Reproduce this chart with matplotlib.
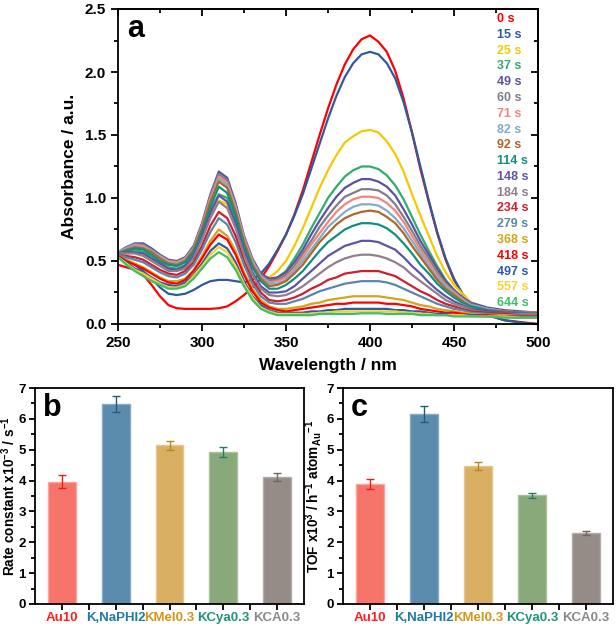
import matplotlib
matplotlib.use("Agg")
import matplotlib.pyplot as plt
import numpy as np
from matplotlib.ticker import MultipleLocator

# ---------------------------------------------------------------------------
# Data
# ---------------------------------------------------------------------------

wavelength = [250, 255, 260, 265, 270, 275, 280, 285, 290, 295,
              300, 305, 310, 315, 320, 325, 330, 335, 340, 345,
              350, 355, 360, 365, 370, 375, 380, 385, 390, 395,
              400, 405, 410, 415, 420, 425, 430, 435, 440, 445,
              450, 455, 460, 470, 480, 490, 500]

abs_0s   = [0.47, 0.45, 0.43, 0.39, 0.31, 0.22, 0.15, 0.125, 0.12, 0.12,
            0.12, 0.12, 0.125, 0.14, 0.18, 0.23, 0.29, 0.36, 0.46, 0.58,
            0.71, 0.87, 1.06, 1.28, 1.50, 1.71, 1.90, 2.06, 2.18, 2.26,
            2.29, 2.24, 2.16, 2.01, 1.79, 1.52, 1.23, 0.97, 0.72, 0.51,
            0.35, 0.24, 0.16, 0.07, 0.03, 0.015, 0.0]
abs_15s  = [0.55, 0.51, 0.47, 0.42, 0.36, 0.29, 0.24, 0.23, 0.24, 0.27,
            0.31, 0.34, 0.35, 0.35, 0.34, 0.33, 0.35, 0.40, 0.48, 0.59,
            0.71, 0.86, 1.03, 1.23, 1.43, 1.63, 1.81, 1.96, 2.07, 2.14,
            2.16, 2.14, 2.07, 1.95, 1.76, 1.52, 1.25, 0.98, 0.73, 0.52,
            0.36, 0.24, 0.16, 0.07, 0.03, 0.01, 0.0]
abs_25s  = [0.56, 0.56, 0.57, 0.55, 0.51, 0.47, 0.43, 0.43, 0.45, 0.53,
            0.68, 0.86, 0.98, 0.95, 0.79, 0.57, 0.45, 0.38, 0.37, 0.42,
            0.50, 0.62, 0.76, 0.92, 1.08, 1.22, 1.34, 1.44, 1.49, 1.53,
            1.54, 1.52, 1.45, 1.35, 1.21, 1.03, 0.86, 0.70, 0.54, 0.41,
            0.31, 0.24, 0.17, 0.12, 0.10, 0.08, 0.08]
abs_37s  = [0.56, 0.58, 0.59, 0.57, 0.54, 0.49, 0.45, 0.44, 0.47, 0.56,
            0.71, 0.90, 1.03, 1.00, 0.83, 0.60, 0.46, 0.37, 0.34, 0.37,
            0.42, 0.52, 0.63, 0.76, 0.88, 1.00, 1.09, 1.17, 1.22, 1.25,
            1.25, 1.23, 1.18, 1.10, 0.99, 0.85, 0.71, 0.58, 0.46, 0.35,
            0.27, 0.21, 0.16, 0.12, 0.10, 0.09, 0.08]
abs_49s  = [0.57, 0.61, 0.64, 0.64, 0.60, 0.55, 0.51, 0.50, 0.53, 0.62,
            0.80, 1.03, 1.21, 1.16, 0.96, 0.70, 0.52, 0.40, 0.36, 0.37,
            0.41, 0.49, 0.59, 0.71, 0.82, 0.92, 1.01, 1.08, 1.12, 1.15,
            1.15, 1.13, 1.09, 1.02, 0.91, 0.79, 0.66, 0.55, 0.44, 0.34,
            0.27, 0.21, 0.17, 0.13, 0.11, 0.10, 0.09]
abs_60s  = [0.57, 0.61, 0.63, 0.63, 0.59, 0.54, 0.50, 0.49, 0.52, 0.61,
            0.79, 1.02, 1.19, 1.14, 0.94, 0.69, 0.51, 0.39, 0.34, 0.35,
            0.39, 0.46, 0.56, 0.66, 0.77, 0.86, 0.94, 1.01, 1.04, 1.07,
            1.07, 1.06, 1.02, 0.95, 0.85, 0.74, 0.62, 0.52, 0.41, 0.32,
            0.26, 0.20, 0.16, 0.12, 0.10, 0.09, 0.09]
abs_71s  = [0.57, 0.60, 0.63, 0.62, 0.58, 0.54, 0.50, 0.49, 0.52, 0.60,
            0.78, 1.00, 1.17, 1.12, 0.93, 0.68, 0.50, 0.38, 0.33, 0.34,
            0.37, 0.44, 0.53, 0.63, 0.72, 0.81, 0.89, 0.95, 0.99, 1.01,
            1.01, 1.00, 0.96, 0.90, 0.81, 0.70, 0.59, 0.49, 0.39, 0.31,
            0.25, 0.20, 0.15, 0.12, 0.10, 0.09, 0.09]
abs_82s  = [0.57, 0.60, 0.62, 0.61, 0.58, 0.53, 0.49, 0.48, 0.51, 0.60,
            0.77, 0.98, 1.15, 1.10, 0.91, 0.66, 0.49, 0.37, 0.32, 0.32,
            0.35, 0.42, 0.50, 0.59, 0.68, 0.77, 0.83, 0.89, 0.93, 0.95,
            0.95, 0.94, 0.90, 0.84, 0.76, 0.66, 0.56, 0.46, 0.37, 0.30,
            0.24, 0.19, 0.15, 0.12, 0.10, 0.09, 0.09]
abs_92s  = [0.56, 0.59, 0.61, 0.60, 0.57, 0.52, 0.48, 0.47, 0.50, 0.59,
            0.76, 0.97, 1.13, 1.08, 0.89, 0.65, 0.47, 0.36, 0.30, 0.31,
            0.34, 0.40, 0.47, 0.56, 0.65, 0.72, 0.79, 0.84, 0.87, 0.89,
            0.90, 0.89, 0.85, 0.80, 0.72, 0.62, 0.53, 0.44, 0.35, 0.28,
            0.23, 0.18, 0.14, 0.11, 0.10, 0.09, 0.09]
abs_114s = [0.56, 0.58, 0.60, 0.59, 0.55, 0.50, 0.47, 0.46, 0.49, 0.57,
            0.73, 0.93, 1.09, 1.04, 0.86, 0.62, 0.45, 0.34, 0.28, 0.28,
            0.31, 0.36, 0.42, 0.50, 0.58, 0.65, 0.70, 0.75, 0.78, 0.80,
            0.80, 0.79, 0.76, 0.71, 0.64, 0.56, 0.47, 0.40, 0.32, 0.26,
            0.21, 0.17, 0.14, 0.11, 0.09, 0.09, 0.08]
abs_148s = [0.56, 0.57, 0.57, 0.56, 0.52, 0.48, 0.44, 0.43, 0.46, 0.54,
            0.69, 0.88, 1.02, 0.97, 0.80, 0.58, 0.41, 0.30, 0.25, 0.25,
            0.26, 0.30, 0.36, 0.42, 0.48, 0.54, 0.58, 0.62, 0.64, 0.66,
            0.66, 0.65, 0.62, 0.59, 0.53, 0.46, 0.40, 0.33, 0.27, 0.22,
            0.18, 0.15, 0.12, 0.10, 0.09, 0.08, 0.08]
abs_184s = [0.56, 0.56, 0.56, 0.54, 0.50, 0.46, 0.42, 0.42, 0.44, 0.52,
            0.67, 0.84, 0.97, 0.92, 0.76, 0.55, 0.39, 0.28, 0.23, 0.22,
            0.23, 0.26, 0.30, 0.35, 0.40, 0.45, 0.49, 0.52, 0.54, 0.55,
            0.55, 0.54, 0.52, 0.49, 0.45, 0.39, 0.34, 0.29, 0.24, 0.19,
            0.16, 0.14, 0.11, 0.09, 0.08, 0.08, 0.08]
abs_234s = [0.55, 0.54, 0.53, 0.51, 0.47, 0.43, 0.40, 0.39, 0.42, 0.49,
            0.62, 0.78, 0.89, 0.84, 0.70, 0.50, 0.35, 0.25, 0.19, 0.18,
            0.19, 0.21, 0.24, 0.28, 0.31, 0.35, 0.37, 0.40, 0.41, 0.42,
            0.42, 0.42, 0.40, 0.38, 0.34, 0.30, 0.26, 0.23, 0.19, 0.16,
            0.14, 0.12, 0.10, 0.09, 0.08, 0.07, 0.07]
abs_279s = [0.55, 0.53, 0.51, 0.49, 0.45, 0.41, 0.38, 0.37, 0.40, 0.47,
            0.59, 0.73, 0.84, 0.79, 0.65, 0.47, 0.32, 0.22, 0.17, 0.16,
            0.16, 0.18, 0.20, 0.23, 0.26, 0.28, 0.30, 0.32, 0.33, 0.34,
            0.34, 0.34, 0.33, 0.31, 0.28, 0.25, 0.22, 0.19, 0.16, 0.14,
            0.12, 0.11, 0.09, 0.08, 0.07, 0.07, 0.07]
abs_368s = [0.54, 0.51, 0.48, 0.45, 0.41, 0.37, 0.34, 0.34, 0.36, 0.43,
            0.54, 0.66, 0.75, 0.70, 0.58, 0.41, 0.28, 0.19, 0.14, 0.12,
            0.12, 0.13, 0.14, 0.16, 0.17, 0.19, 0.20, 0.21, 0.22, 0.22,
            0.22, 0.22, 0.21, 0.20, 0.19, 0.17, 0.15, 0.14, 0.12, 0.11,
            0.10, 0.09, 0.08, 0.07, 0.07, 0.06, 0.06]
abs_418s = [0.54, 0.50, 0.47, 0.44, 0.40, 0.36, 0.33, 0.32, 0.35, 0.42,
            0.52, 0.63, 0.71, 0.67, 0.55, 0.39, 0.26, 0.17, 0.13, 0.11,
            0.10, 0.11, 0.12, 0.13, 0.14, 0.15, 0.16, 0.16, 0.17, 0.17,
            0.17, 0.17, 0.16, 0.16, 0.15, 0.14, 0.12, 0.11, 0.10, 0.09,
            0.09, 0.08, 0.07, 0.07, 0.06, 0.06, 0.06]
abs_497s = [0.53, 0.49, 0.44, 0.41, 0.37, 0.33, 0.31, 0.30, 0.33, 0.39,
            0.48, 0.58, 0.64, 0.60, 0.49, 0.34, 0.22, 0.15, 0.11, 0.09,
            0.09, 0.09, 0.09, 0.10, 0.10, 0.11, 0.11, 0.12, 0.12, 0.12,
            0.12, 0.12, 0.12, 0.11, 0.11, 0.10, 0.10, 0.09, 0.08, 0.08,
            0.07, 0.07, 0.07, 0.06, 0.06, 0.05, 0.05]
abs_557s = [0.53, 0.48, 0.43, 0.40, 0.36, 0.32, 0.29, 0.29, 0.31, 0.38,
            0.46, 0.55, 0.61, 0.57, 0.46, 0.32, 0.21, 0.13, 0.10, 0.08,
            0.08, 0.08, 0.08, 0.08, 0.09, 0.09, 0.10, 0.10, 0.10, 0.10,
            0.10, 0.10, 0.10, 0.10, 0.09, 0.09, 0.08, 0.08, 0.07, 0.07,
            0.07, 0.07, 0.06, 0.06, 0.06, 0.05, 0.05]
abs_644s = [0.53, 0.47, 0.42, 0.38, 0.34, 0.31, 0.28, 0.28, 0.30, 0.36,
            0.44, 0.52, 0.57, 0.53, 0.43, 0.30, 0.19, 0.12, 0.09, 0.07,
            0.07, 0.07, 0.07, 0.07, 0.08, 0.08, 0.08, 0.08, 0.08, 0.085,
            0.085, 0.085, 0.08, 0.08, 0.08, 0.08, 0.07, 0.07, 0.07, 0.07,
            0.06, 0.06, 0.06, 0.06, 0.05, 0.05, 0.05]

time_labels = ["0 s", "15 s", "25 s", "37 s", "49 s", "60 s", "71 s", "82 s",
               "92 s", "114 s", "148 s", "184 s", "234 s", "279 s", "368 s",
               "418 s", "497 s", "557 s", "644 s"]
spectra = [abs_0s, abs_15s, abs_25s, abs_37s, abs_49s, abs_60s, abs_71s,
           abs_82s, abs_92s, abs_114s, abs_148s, abs_184s, abs_234s,
           abs_279s, abs_368s, abs_418s, abs_497s, abs_557s, abs_644s]
line_colors = ["#FF0000", "#2F5A9E", "#F7C800", "#2EAE6A", "#5A52A0",
               "#7E7E8A", "#F4847C", "#7EAEC8", "#B0662A", "#10907C",
               "#5E54A6", "#8E7E8E", "#D01E2A", "#5A86AE", "#D4A41C",
               "#FF0000", "#2F5AA8", "#F7D030", "#3CBF68"]

samples = ["Au10", "K,NaPHI2", "KMel0.3", "KCya0.3", "KCA0.3"]
rate_const = [3.96, 6.49, 5.14, 4.93, 4.12]
rate_err = [0.21, 0.26, 0.14, 0.15, 0.14]
tof = [3.89, 6.16, 4.47, 3.52, 2.30]
tof_err = [0.17, 0.25, 0.12, 0.09, 0.07]

bar_colors = ["#F7746B", "#5B8CAE", "#D9AF63", "#89A97B", "#968C87"]
bar_edges = ["#FBA59E", "#86AAC2", "#E6C68C", "#A8C29C", "#B3ABA6"]
err_colors = ["#E8201C", "#23597D", "#B8861A", "#2F7A5C", "#6E6661"]
label_colors = ["#FF2020", "#1F7BA6", "#D4961A", "#1E957A", "#8A8A8A"]

plt.rcParams.update({
    "font.family": ["Liberation Sans", "DejaVu Sans"],
    "font.weight": "bold",
    "axes.labelweight": "bold",
    "mathtext.fontset": "custom",
    "mathtext.rm": "Liberation Sans:bold",
    "mathtext.it": "Liberation Sans:bold",
    "mathtext.bf": "Liberation Sans:bold",
    "mathtext.default": "bf",
    "axes.linewidth": 1.3,
})

W, H = 616, 630
fig = plt.figure(figsize=(W / 100, H / 100), dpi=100)


def px_axes(left, top, right, bottom):
    return fig.add_axes([left / W, 1 - bottom / H, (right - left) / W, (bottom - top) / H])


# ---------------------------------------------------------------------------
# (a) UV-vis spectra
# ---------------------------------------------------------------------------
ax = px_axes(118, 9, 538, 324)
for y, c in zip(spectra, line_colors):
    ax.plot(wavelength, y, color=c, lw=1.6, solid_joinstyle="round")
ax.set_xlim(250, 500)
ax.set_ylim(0, 2.5)
ax.xaxis.set_major_locator(MultipleLocator(50))
ax.xaxis.set_minor_locator(MultipleLocator(25))
ax.yaxis.set_major_locator(MultipleLocator(0.5))
ax.yaxis.set_minor_locator(MultipleLocator(0.25))
ax.tick_params(which="both", direction="out", width=1.3, labelsize=11)
ax.tick_params(which="major", length=5)
ax.tick_params(which="minor", length=3)
ax.set_xlabel("Wavelength / nm", fontsize=12.5, labelpad=6)
ax.set_ylabel("Absorbance / a.u.", fontsize=12.5, labelpad=6)

# mirrored ticks on top/right, pointing inwards
sec_x = ax.secondary_xaxis("top")
sec_y = ax.secondary_yaxis("right")
sec_x.xaxis.set_major_locator(MultipleLocator(50))
sec_x.xaxis.set_minor_locator(MultipleLocator(25))
sec_y.yaxis.set_major_locator(MultipleLocator(0.5))
sec_y.yaxis.set_minor_locator(MultipleLocator(0.25))
for sec in (sec_x, sec_y):
    sec.tick_params(which="both", direction="in", width=1.3,
                    labeltop=False, labelright=False)
    sec.tick_params(which="major", length=5)
    sec.tick_params(which="minor", length=3)

for i, (lab, c) in enumerate(zip(time_labels, line_colors)):
    ax.text(0.902, 0.968 - i * 0.0501, lab, transform=ax.transAxes,
            color=c, fontsize=9, fontweight="bold", ha="left", va="center")
ax.text(0.022, 0.985, "a", transform=ax.transAxes, fontsize=22,
        fontweight="bold", ha="left", va="top")


# ---------------------------------------------------------------------------
# (b), (c) bar charts
# ---------------------------------------------------------------------------
def bar_panel(ax, vals, errs, ylabel, letter, label_x):
    x = np.arange(1, len(samples) + 1)
    ax.bar(x, vals, width=0.52, color=bar_colors, edgecolor=bar_edges, linewidth=1.0)
    for xi, v, e, c in zip(x, vals, errs, err_colors):
        ax.errorbar(xi, v, yerr=e, color=c, capsize=3.2, elinewidth=1.0,
                    capthick=1.0)
    ax.set_xlim(0.5, len(samples) + 0.5)
    ax.set_ylim(0, 7)
    ax.set_xticks(x)
    ax.set_xticks(x[:-1] + 0.5, minor=True)
    ax.set_xticklabels(samples, fontsize=8.0, fontweight="bold")
    for t, c in zip(ax.get_xticklabels(), label_colors):
        t.set_color(c)
    ax.yaxis.set_major_locator(MultipleLocator(1))
    ax.yaxis.set_minor_locator(MultipleLocator(0.5))
    ax.tick_params(which="both", direction="out", width=1.3, labelsize=9.5)
    ax.tick_params(axis="x", which="both", length=4, pad=2)
    ax.tick_params(axis="y", which="major", length=4.5, pad=2)
    ax.tick_params(axis="y", which="minor", length=3)
    ax.set_ylabel(ylabel, fontsize=9.8)
    ax.yaxis.set_label_coords(label_x, 0.5)
    ax.text(0.03, 0.975, letter, transform=ax.transAxes, fontsize=22,
            fontweight="bold", ha="left", va="top")


bar_panel(px_axes(35, 388, 304, 604), rate_const, rate_err,
          r"Rate constant x10$^{-3}$ / s$^{-1}$", "b", -0.064)
bar_panel(px_axes(343, 388, 613, 604), tof, tof_err,
          r"TOF x10$^{3}$ / h$^{-1}$ atom$_{Au}$$^{-1}$", "c", -0.07)

fig.savefig("out.png", dpi=100)
